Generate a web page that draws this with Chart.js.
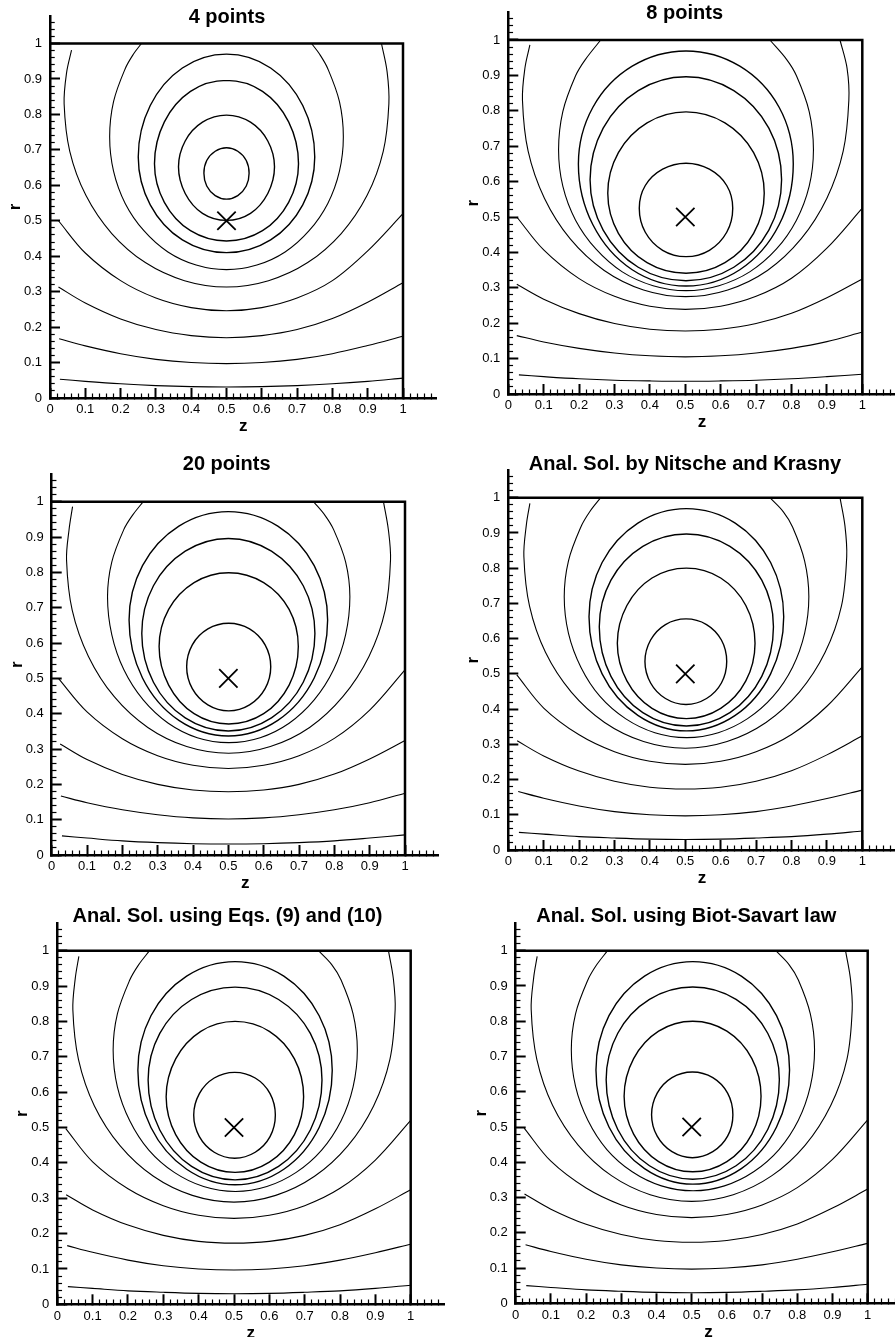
<!DOCTYPE html>
<html>
<head>
<meta charset="utf-8">
<script src="https://cdn.jsdelivr.net/npm/chart.js@4.4.1/dist/chart.umd.min.js"></script>
<style>
html,body{margin:0;padding:0;background:#fff;width:895px;height:1337px;overflow:hidden;position:relative;}
canvas{position:absolute;}
</style>
</head>
<body>
<script>
// ---------------- DATA ----------------
const panelTitles = ['4 points', '8 points', '20 points',
  'Anal. Sol. by Nitsche and Krasny',
  'Anal. Sol. using Eqs. (9) and (10)',
  'Anal. Sol. using Biot-Savart law'];
const xAxisTitle = 'z';
const yAxisTitle = 'r';
const majorTickValues = [0, 0.1, 0.2, 0.3, 0.4, 0.5, 0.6, 0.7, 0.8, 0.9, 1];
const majorTickLabels = ['0', '0.1', '0.2', '0.3', '0.4', '0.5', '0.6', '0.7', '0.8', '0.9', '1'];

// domain boundary (r = 1 top edge and z = 1 right edge) and vortex ring position
const domainBoundary = [[0, 1], [1, 1], [1, 0]];
const vortexCenter = [0.5, 0.5];

// contours as [z, r] points; closed loops and open curves
const closed4pts = [
  [[.5,.706],[.468,.696],[.444,.670],[.436,.634],[.444,.598],[.468,.571],[.5,.561],[.532,.571],[.556,.598],[.564,.634],[.556,.670],[.532,.696]],
  [[.5,.798],[.432,.778],[.383,.725],[.364,.652],[.383,.577],[.432,.521],[.5,.501],[.568,.521],[.617,.577],[.636,.652],[.617,.725],[.568,.778]],
  [[.5,.896],[.398,.865],[.324,.779],[.296,.661],[.324,.552],[.398,.472],[.5,.443],[.602,.472],[.676,.552],[.704,.661],[.676,.779],[.602,.865]],
  [[.5,.970],[.375,.931],[.284,.825],[.25,.68],[.284,.545],[.375,.446],[.5,.410],[.625,.446],[.716,.545],[.75,.68],[.716,.825],[.625,.931]]
];
const open4pts = [
  [[.259,1],[.237,.971],[.213,.929],[.180,.836],[.169,.737],[.180,.640],[.213,.549],[.266,.472],[.334,.412],[.414,.375],[.5,.362],[.586,.375],[.666,.412],[.734,.472],[.787,.549],[.820,.640],[.831,.737],[.820,.836],[.787,.929],[.763,.971],[.741,1]],
  [[.061,.981],[.047,.918],[.04,.83],[.056,.696],[.102,.571],[.175,.464],[.27,.382],[.381,.331],[.5,.313],[.619,.331],[.73,.382],[.825,.464],[.898,.571],[.944,.696],[.96,.83],[.955,.92],[.939,1]],
  [[.024,.5],[.1,.409],[.2,.331],[.3,.282],[.4,.255],[.5,.246],[.6,.255],[.7,.282],[.8,.331],[.9,.415],[1,.52]],
  [[.024,.313],[.1,.268],[.2,.223],[.3,.193],[.4,.176],[.5,.170],[.6,.176],[.7,.193],[.8,.224],[.9,.270],[1,.325]],
  [[.026,.167],[.1,.147],[.2,.125],[.3,.109],[.4,.100],[.5,.097],[.6,.100],[.7,.109],[.8,.125],[.9,.148],[1,.174]],
  [[.028,.053],[.1,.047],[.2,.040],[.3,.035],[.4,.032],[.5,.031],[.6,.032],[.7,.035],[.8,.040],[.9,.047],[1,.056]]
];

const closed8pts = [
  [[.502,.652],[.436,.635],[.387,.589],[.370,.525],[.387,.457],[.436,.406],[.502,.388],[.568,.406],[.617,.457],[.634,.525],[.617,.589],[.568,.635]],
  [[.502,.797],[.392,.766],[.311,.682],[.281,.567],[.311,.454],[.392,.371],[.502,.341],[.612,.371],[.693,.454],[.723,.567],[.693,.682],[.612,.766]],
  [[.502,.896],[.367,.857],[.268,.751],[.231,.605],[.268,.463],[.367,.358],[.502,.320],[.637,.358],[.736,.463],[.772,.605],[.736,.751],[.637,.857]],
  [[.502,.969],[.350,.926],[.239,.810],[.198,.650],[.239,.478],[.350,.351],[.502,.305],[.654,.351],[.765,.478],[.805,.650],[.765,.810],[.654,.926]]
];
const open8pts = [
  [[.261,1],[.217,.944],[.190,.899],[.154,.798],[.142,.69],[.154,.587],[.190,.491],[.248,.409],[.322,.345],[.409,.306],[.502,.292],[.595,.306],[.682,.345],[.757,.409],[.814,.491],[.850,.587],[.862,.69],[.850,.798],[.814,.899],[.787,.944],[.739,1]],
  [[.061,.986],[.047,.921],[.040,.83],[.056,.686],[.102,.553],[.175,.438],[.271,.349],[.382,.294],[.501,.275],[.620,.294],[.732,.349],[.827,.438],[.900,.553],[.946,.686],[.962,.83],[.957,.92],[.937,1]],
  [[.024,.5],[.1,.407],[.2,.326],[.3,.276],[.4,.248],[.5,.239],[.6,.248],[.7,.276],[.8,.327],[.9,.412],[1,.525]],
  [[.024,.31],[.1,.268],[.2,.227],[.3,.199],[.4,.183],[.5,.178],[.6,.183],[.7,.199],[.8,.228],[.9,.272],[1,.325]],
  [[.024,.165],[.1,.147],[.2,.129],[.3,.116],[.4,.108],[.5,.105],[.6,.108],[.7,.116],[.8,.129],[.9,.148],[1,.175]],
  [[.03,.054],[.1,.049],[.2,.043],[.3,.039],[.4,.037],[.5,.036],[.6,.037],[.7,.039],[.8,.043],[.9,.049],[1,.056]]
];

const closed20pts = [
  [[.501,.656],[.442,.640],[.398,.595],[.382,.533],[.398,.471],[.442,.425],[.501,.408],[.560,.425],[.604,.471],[.620,.533],[.604,.595],[.560,.640]],
  [[.501,.799],[.403,.771],[.331,.695],[.304,.59],[.331,.481],[.403,.40],[.501,.371],[.600,.40],[.672,.481],[.698,.59],[.672,.695],[.600,.771]],
  [[.5,.896],[.378,.86],[.288,.762],[.255,.627],[.288,.489],[.378,.388],[.5,.351],[.622,.388],[.712,.489],[.745,.627],[.712,.762],[.622,.86]],
  [[.5,.972],[.36,.931],[.257,.819],[.219,.665],[.257,.501],[.36,.381],[.5,.337],[.64,.381],[.743,.501],[.781,.665],[.743,.819],[.64,.931]]
];
const open20pts = [
  [[.259,1],[.229,.962],[.204,.921],[.170,.829],[.158,.731],[.170,.624],[.204,.525],[.259,.439],[.330,.373],[.412,.332],[.501,.318],[.590,.332],[.672,.373],[.743,.439],[.798,.525],[.832,.624],[.844,.731],[.832,.829],[.798,.921],[.773,.962],[.741,1]],
  [[.059,.986],[.049,.92],[.042,.835],[.058,.693],[.104,.562],[.177,.448],[.272,.361],[.382,.307],[.501,.288],[.619,.307],[.73,.361],[.824,.448],[.898,.562],[.944,.693],[.959,.835],[.953,.92],[.939,1]],
  [[.019,.5],[.1,.405],[.2,.329],[.3,.281],[.4,.254],[.5,.245],[.6,.254],[.7,.281],[.8,.33],[.9,.41],[1,.524]],
  [[.024,.314],[.1,.27],[.2,.228],[.3,.2],[.4,.184],[.5,.179],[.6,.184],[.7,.2],[.8,.229],[.9,.272],[1,.324]],
  [[.026,.167],[.1,.148],[.2,.128],[.3,.114],[.4,.105],[.5,.102],[.6,.105],[.7,.114],[.8,.128],[.9,.148],[1,.175]],
  [[.029,.054],[.1,.048],[.2,.040],[.3,.035],[.4,.032],[.5,.031],[.6,.032],[.7,.035],[.8,.040],[.9,.048],[1,.057]]
];

const closedAnalytic = [
  [[.502,.656],[.444,.640],[.402,.596],[.386,.535],[.402,.474],[.444,.430],[.502,.413],[.560,.430],[.602,.474],[.617,.535],[.602,.596],[.560,.640]],
  [[.503,.800],[.406,.772],[.335,.694],[.308,.587],[.335,.480],[.406,.402],[.503,.373],[.600,.402],[.671,.480],[.697,.587],[.671,.694],[.600,.772]],
  [[.503,.897],[.38,.862],[.29,.766],[.257,.634],[.29,.493],[.38,.39],[.503,.352],[.626,.39],[.716,.493],[.749,.634],[.716,.766],[.626,.862]],
  [[.503,.969],[.366,.928],[.265,.816],[.228,.662],[.265,.50],[.366,.382],[.503,.338],[.641,.382],[.741,.50],[.778,.662],[.741,.816],[.641,.928]]
];
const openAnalytic = [
  [[.261,1],[.230,.960],[.205,.917],[.170,.821],[.158,.719],[.170,.615],[.205,.519],[.259,.436],[.331,.373],[.414,.333],[.504,.319],[.593,.333],[.676,.373],[.748,.436],[.803,.519],[.837,.615],[.849,.719],[.837,.821],[.803,.917],[.777,.960],[.739,1]],
  [[.061,.984],[.051,.923],[.044,.833],[.060,.692],[.105,.561],[.178,.448],[.272,.362],[.382,.308],[.5,.289],[.618,.308],[.728,.362],[.822,.448],[.895,.561],[.941,.692],[.956,.833],[.951,.92],[.937,1]],
  [[.024,.497],[.1,.403],[.2,.327],[.3,.279],[.4,.252],[.5,.243],[.6,.252],[.7,.279],[.8,.328],[.9,.408],[1,.52]],
  [[.025,.31],[.1,.267],[.2,.224],[.3,.195],[.4,.178],[.5,.173],[.6,.178],[.7,.195],[.8,.225],[.9,.27],[1,.324]],
  [[.028,.166],[.1,.147],[.2,.125],[.3,.109],[.4,.100],[.5,.097],[.6,.100],[.7,.109],[.8,.125],[.9,.146],[1,.170]],
  [[.03,.05],[.1,.045],[.2,.038],[.3,.034],[.4,.031],[.5,.030],[.6,.031],[.7,.034],[.8,.038],[.9,.045],[1,.054]]
];

// ---------------- LAYOUT / STYLE ----------------
const panelData = [
  [closed4pts, open4pts], [closed8pts, open8pts], [closed20pts, open20pts],
  [closedAnalytic, openAnalytic], [closedAnalytic, openAnalytic], [closedAnalytic, openAnalytic]
];
// pixel geometry of each panel: z=0 (L0), z=1 (L1), r=1 (T1), r=0 (B0), title centre (tx, ty)
const panelGeom = [
  {L0: 50,    L1: 403,   T1: 43.5,  B0: 398,    tx: 227,   ty: 17},
  {L0: 508.3, L1: 862.3, T1: 40,    B0: 394,    tx: 684.7, ty: 13.3},
  {L0: 51.7,  L1: 405,   T1: 501.7, B0: 855,    tx: 226.7, ty: 464},
  {L0: 508.3, L1: 862.3, T1: 497.7, B0: 850,    tx: 685,   ty: 464},
  {L0: 57.3,  L1: 410.7, T1: 950.7, B0: 1304.3, tx: 227.5, ty: 916.7},
  {L0: 515.7, L1: 867.7, T1: 950.7, B0: 1303.3, tx: 686.3, ty: 916.7}
];
const X_MAX = 1.095, Y_MAX = 1.078, STEP = 0.02;
const XH = 40, TITLE_LH = 24, AXT_HALF = 10.2, TICK_LEN = 10;
const FONT = '"Liberation Sans", Arial, Helvetica, sans-serif';
Chart.defaults.font.family = FONT;
Chart.defaults.color = '#000';

const onStep = v => Math.abs(v / STEP - Math.round(v / STEP)) < 1e-6;
const majorIndex = v => majorTickValues.findIndex(t => Math.abs(t - v) < 1e-6);
const isMajor = v => majorIndex(v) >= 0;
const tickLabel = v => { const i = majorIndex(v); return i >= 0 ? majorTickLabels[i] : ''; };

const loopPlugin = {
  id: 'closedLoop',
  beforeDatasetUpdate(chart, args) {
    const ds = chart.data.datasets[args.index];
    const line = args.meta.dataset;
    if (ds.closedLoop && line) { line._loop = true; line._fullLoop = true; }
  },
  afterDatasetUpdate(chart, args) {
    const ds = chart.data.datasets[args.index];
    const line = args.meta.dataset;
    if (ds.closedLoop && line) {
      line._loop = true; line._fullLoop = true;
      line._pointsUpdated = false; line._path = undefined; delete line._segments;
    }
  }
};

const toXY = arr => arr.map(p => ({x: p[0], y: p[1]}));

panelGeom.forEach((g, i) => {
  const R = g.L0 + X_MAX * (g.L1 - g.L0);
  const top = g.B0 - Y_MAX * (g.B0 - g.T1);
  const a = 2 * g.tx - R;
  const cl = Math.floor(Math.min(a, g.L0 - 48)) - 2;
  const ct = Math.floor(Math.min(top - 32, g.ty - 14)) - 2;
  const W = Math.ceil(R - cl) + 18;
  const H = Math.ceil(g.B0 + XH - ct) + 2;
  const padL = a - cl;
  const padR = W - (R - cl);
  const padB = H - (g.B0 + XH - ct);
  const yw = g.L0 - a;
  const titlePT = g.ty - TITLE_LH / 2 - ct;
  const titlePB = (top - ct) - titlePT - TITLE_LH;

  const c = document.createElement('canvas');
  c.width = W; c.height = H;
  c.style.cssText = `left:${cl}px;top:${ct}px;width:${W}px;height:${H}px;`;
  document.body.appendChild(c);

  const [closedSet, openSet] = panelData[i];
  const datasets = [];
  closedSet.forEach(cv => datasets.push({
    data: toXY(cv), closedLoop: true, borderColor: '#000', borderWidth: 1.4,
    pointRadius: 0, tension: 0.35, fill: false
  }));
  openSet.forEach(cv => datasets.push({
    data: toXY(cv), borderColor: '#000', borderWidth: 1.1,
    pointRadius: 0, tension: 0.35, fill: false
  }));
  datasets.push({
    data: toXY(domainBoundary), borderColor: '#000', borderWidth: 2.5,
    pointRadius: 0, tension: 0, fill: false
  });
  datasets.push({
    data: toXY([vortexCenter]), showLine: false, pointStyle: 'crossRot',
    pointRadius: 13, pointBorderWidth: 1.8, pointBorderColor: '#000', pointBackgroundColor: '#000'
  });

  const tickColor = ctx => onStep(ctx.tick.value) ? '#000' : 'rgba(0,0,0,0)';
  const tickWidth = ctx => isMajor(ctx.tick.value) ? 2 : 1.2;

  new Chart(c, {
    type: 'line',
    data: {datasets},
    options: {
      responsive: false, animation: false, events: [],
      layout: {autoPadding: false, padding: {left: padL, right: padR, top: 0, bottom: padB}},
      plugins: {
        legend: {display: false}, tooltip: {enabled: false},
        title: {display: true, text: panelTitles[i], color: '#000',
          font: {family: FONT, size: 20, weight: 'bold', lineHeight: 1.2},
          padding: {top: titlePT, bottom: titlePB}}
      },
      scales: {
        x: {
          type: 'linear', min: 0, max: X_MAX, bounds: 'data',
          afterFit: s => { s.height = XH; },
          border: {display: true, color: '#000', width: 2.5},
          grid: {drawOnChartArea: false, drawTicks: true, tickLength: -TICK_LEN,
            tickColor, tickWidth,
            tickBorderDash: ctx => isMajor(ctx.tick.value) ? [] : [6, 40],
            tickBorderDashOffset: 0},
          ticks: {stepSize: STEP, includeBounds: false, autoSkip: false, maxRotation: 0, minRotation: 0,
            padding: 14, color: '#000', font: {size: 13}, callback: v => tickLabel(v)},
          title: {display: true, text: xAxisTitle, color: '#000',
            font: {size: 17, weight: 'bold', lineHeight: 1.2}, padding: {top: 0, bottom: 1}}
        },
        y: {
          type: 'linear', min: 0, max: Y_MAX, bounds: 'data',
          afterFit: s => { s.width = yw; },
          border: {display: true, color: '#000', width: 2.5},
          grid: {drawOnChartArea: false, drawTicks: true, tickLength: -TICK_LEN,
            tickColor, tickWidth,
            tickBorderDash: ctx => isMajor(ctx.tick.value) ? [] : [6, 5.25],
            tickBorderDashOffset: ctx => isMajor(ctx.tick.value) ? 0 : 6},
          ticks: {stepSize: STEP, includeBounds: false, autoSkip: false,
            padding: 18, color: '#000', font: {size: 13}, callback: v => tickLabel(v)},
          title: {display: true, text: yAxisTitle, color: '#000',
            font: {size: 17, weight: 'bold', lineHeight: 1.2},
            padding: {top: yw - 34.5 - AXT_HALF, bottom: 0}}
        }
      }
    },
    plugins: [loopPlugin]
  });
});
</script>
</body>
</html>
